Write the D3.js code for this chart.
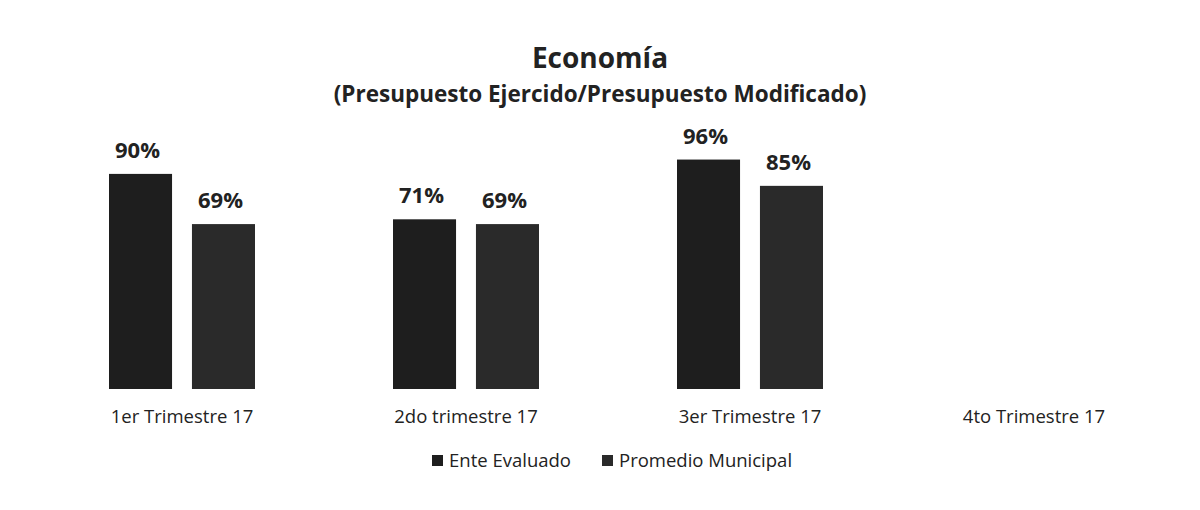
<!DOCTYPE html>
<html>
<head>
<meta charset="utf-8">
<script src="https://cdn.jsdelivr.net/npm/d3@7"></script>
<style>
  body { margin: 0; background: #fff; }
  text { font-family: "Open Sans", "Noto Sans", sans-serif; fill: #222; }
</style>
</head>
<body>
<div id="chart"></div>
<script>
var quarters = ["1er Trimestre 17", "2do trimestre 17", "3er Trimestre 17", "4to Trimestre 17"];
var seriesNames = ["Ente Evaluado", "Promedio Municipal"];
var enteValues = [90, 71, 96, null];
var promedioValues = [69, 69, 85, null];
var colors = ["#1e1e1e", "#2a2a2a"];

var width = 1200, height = 510;

var svg = d3.select("#chart").append("svg")
  .attr("width", width)
  .attr("height", height);

var x = d3.scaleBand()
  .domain(quarters)
  .range([40, 1176])
  .paddingInner(0)
  .paddingOuter(0);

var x1 = d3.scaleBand()
  .domain(seriesNames)
  .range([x.bandwidth() / 2 - 73, x.bandwidth() / 2 + 73])
  .paddingInner(0.24);

var y = d3.scaleLinear()
  .domain([0, 100])
  .range([389, 150]);

// title
svg.append("text")
  .attr("x", 600).attr("y", 68)
  .attr("text-anchor", "middle")
  .style("font-size", "28px")
  .style("font-weight", "bold")
  .text("Economía");

svg.append("text")
  .attr("x", 600).attr("y", 102)
  .attr("text-anchor", "middle")
  .style("font-size", "22.5px")
  .style("font-weight", "bold")
  .text("(Presupuesto Ejercido/Presupuesto Modificado)");

var rows = quarters.map(function(q, i) {
  return { q: q, vals: [enteValues[i], promedioValues[i]] };
});

var groups = svg.selectAll("g.group")
  .data(rows)
  .enter().append("g")
  .attr("class", "group")
  .attr("transform", function(d) { return "translate(" + x(d.q) + ",0)"; });

groups.selectAll("rect")
  .data(function(d) {
    return d.vals.map(function(v, j) { return { name: seriesNames[j], v: v, j: j }; })
      .filter(function(e) { return e.v != null; });
  })
  .enter().append("rect")
  .attr("x", function(d) { return x1(d.name); })
  .attr("width", x1.bandwidth())
  .attr("y", function(d) { return y(d.v); })
  .attr("height", function(d) { return y(0) - y(d.v); })
  .attr("fill", function(d) { return colors[d.j]; });

groups.selectAll("text.val")
  .data(function(d) {
    return d.vals.map(function(v, j) { return { name: seriesNames[j], v: v }; })
      .filter(function(e) { return e.v != null; });
  })
  .enter().append("text")
  .attr("class", "val")
  .attr("x", function(d) { return x1(d.name) + x1.bandwidth() / 2 - 3; })
  .attr("y", function(d) { return y(d.v) - 16; })
  .attr("text-anchor", "middle")
  .style("font-size", "22px")
  .style("font-weight", "bold")
  .text(function(d) { return d.v + "%"; });

// x axis labels
var xAxis = d3.axisBottom(x).tickSize(0).tickPadding(21);
var gx = svg.append("g")
  .attr("transform", "translate(0,389)")
  .call(xAxis);
gx.select(".domain").remove();
gx.selectAll("text")
  .style("font-size", "18.5px")
  .style("fill", "#222");

// legend
var legendX = [432, 602];
var items = svg.selectAll("g.item")
  .data(seriesNames)
  .enter().append("g")
  .attr("class", "item")
  .attr("transform", function(d, i) { return "translate(" + legendX[i] + ",467)"; });
items.append("rect")
  .attr("x", 0).attr("y", -12)
  .attr("width", 11).attr("height", 11)
  .attr("fill", function(d, i) { return colors[i]; });
items.append("text")
  .attr("x", 17).attr("y", 0)
  .style("font-size", "18.5px")
  .text(function(d) { return d; });
</script>
</body>
</html>
